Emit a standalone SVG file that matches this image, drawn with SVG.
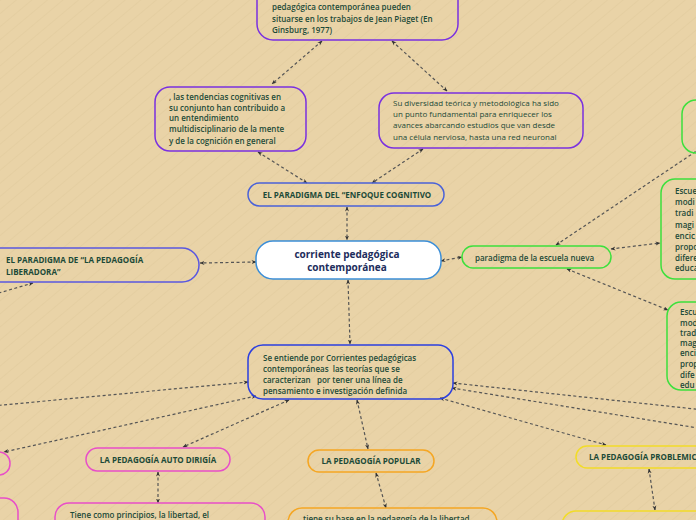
<svg xmlns="http://www.w3.org/2000/svg" width="696" height="520" viewBox="0 0 696 520">
<defs>
<pattern id="bg" width="10" height="10" patternUnits="userSpaceOnUse" patternTransform="rotate(-40)">
<rect width="10" height="10" fill="#e9d3a7"/>
<line x1="0" y1="0" x2="10" y2="0" stroke="#e2cb9d" stroke-width="1.2"/>
</pattern>
<marker id="ah" viewBox="0 0 10 10" refX="9" refY="5" markerWidth="5" markerHeight="5" orient="auto-start-reverse" markerUnits="userSpaceOnUse">
<path d="M0,1 L10,5 L0,9 L3,5 Z" fill="#333"/>
</marker>
<style>
.c{fill:none;stroke:#555;stroke-width:1.2;stroke-dasharray:3 2.5;marker-start:url(#ah);marker-end:url(#ah)}
.n{fill:none;stroke-width:1.5}
text{white-space:pre}
.t{font-family:"Open Sans","Noto Sans","Liberation Sans",sans-serif;fill:#1c4a38;font-size:8px;font-weight:600}
.tn{font-family:"Open Sans","Noto Sans","Liberation Sans",sans-serif;fill:#1c4a38;font-size:8px;font-weight:400}
.h{font-family:"Open Sans","Noto Sans","Liberation Sans",sans-serif;fill:#1c4a38;font-size:8px;font-weight:700}
.pur{stroke:#7a30e0}
.grn{stroke:#3de03d}
.pnk{stroke:#e84fc8}
.org{stroke:#f5a623}
.yel{stroke:#f2dc28}
</style>
</defs>
<rect width="696" height="520" fill="url(#bg)"/>

<g id="connectors">
<line class="c" x1="322" y1="41" x2="272" y2="84"/>
<line class="c" x1="392" y1="41" x2="447" y2="91"/>
<line class="c" x1="258" y1="152" x2="307" y2="183"/>
<line class="c" x1="423" y1="149" x2="372" y2="183"/>
<line class="c" x1="347" y1="207" x2="347" y2="240"/>
<line class="c" x1="256" y1="262" x2="200" y2="263"/>
<line class="c" x1="441" y1="261" x2="462" y2="257"/>
<line class="c" x1="348" y1="280" x2="350" y2="344"/>
<line class="c" x1="556" y1="245" x2="704" y2="146"/>
<line class="c" x1="611" y1="249" x2="660" y2="243"/>
<line class="c" x1="567" y1="269" x2="668" y2="310"/>
<line class="c" x1="33" y1="283" x2="-8" y2="295"/>
<line class="c" x1="248" y1="382" x2="-8" y2="406"/>
<line class="c" x1="256" y1="396" x2="4" y2="452"/>
<line class="c" x1="289" y1="400" x2="183" y2="447"/>
<line class="c" x1="357" y1="400" x2="368" y2="449"/>
<line class="c" x1="440" y1="398" x2="606" y2="445"/>
<line class="c" x1="452" y1="388" x2="704" y2="429"/>
<line class="c" x1="453" y1="383" x2="704" y2="410"/>
<line class="c" x1="158" y1="472" x2="158" y2="503"/>
<line class="c" x1="376" y1="473" x2="386" y2="508"/>
<line class="c" x1="649" y1="469" x2="655" y2="510"/>
</g>

<g id="n-piaget">
<rect class="n pur" x="257" y="-20" width="201" height="60" rx="16"/>
<text class="t" x="272" y="10">pedagógica contemporánea pueden</text>
<text class="t" x="272" y="22">situarse en los trabajos de Jean Piaget (En</text>
<text class="t" x="272" y="33">Ginsburg, 1977)</text>
</g>

<g id="n-tendencias">
<rect class="n pur" x="155" y="87" width="151" height="64" rx="15"/>
<text class="t" x="169" y="100">, las tendencias cognitivas en</text>
<text class="t" x="169" y="111">su conjunto han contribuido a</text>
<text class="t" x="169" y="121">un entendimiento</text>
<text class="t" x="169" y="132">multidisciplinario de la mente</text>
<text class="t" x="169" y="144">y de la cognición en general</text>
</g>

<g id="n-diversidad">
<rect class="n pur" x="379" y="93" width="204" height="55" rx="15"/>
<text class="tn" x="393" y="106">Su diversidad teórica y metodológica ha sido</text>
<text class="tn" x="393" y="117">un punto fundamental para enriquecer los</text>
<text class="tn" x="393" y="128">avances abarcando estudios que van desde</text>
<text class="tn" x="393" y="140">una célula nerviosa, hasta una red neuronal</text>
</g>

<g id="n-enfoque">
<rect class="n" stroke="#4a62d8" x="248" y="183" width="196" height="23" rx="11.5"/>
<text class="h" x="347" y="198" text-anchor="middle">EL PARADIGMA DEL “ENFOQUE COGNITIVO</text>
</g>

<g id="n-corriente">
<rect x="256" y="241" width="185" height="38" rx="17" fill="#fff" stroke="#3b8ed8" stroke-width="1.5"/>
<text x="347" y="258" text-anchor="middle" font-family="Open Sans, Noto Sans, Liberation Sans, sans-serif" font-size="10" font-weight="700" fill="#1d2d5c">corriente pedagógica</text>
<text x="347" y="271" text-anchor="middle" font-family="Open Sans, Noto Sans, Liberation Sans, sans-serif" font-size="10" font-weight="700" fill="#1d2d5c">contemporánea</text>
</g>

<g id="n-liberadora">
<rect class="n" stroke="#5a58e0" x="-20" y="248" width="219" height="34" rx="17"/>
<text class="h" x="6" y="263">EL PARADIGMA DE “LA PEDAGOGÍA</text>
<text class="h" x="6" y="275">LIBERADORA”</text>
</g>

<g id="n-nueva">
<rect class="n grn" x="462" y="246" width="149" height="22" rx="11"/>
<text class="t" x="475" y="261">paradigma de la escuela nueva</text>
</g>

<g id="n-right-top">
<rect class="n grn" x="682" y="100" width="40" height="53" rx="14"/>
</g>

<g id="n-right-mid">
<rect class="n grn" x="661" y="179" width="60" height="100" rx="14"/>
<text class="t" x="675" y="194">Escue</text>
<text class="t" x="675" y="205">modi</text>
<text class="t" x="675" y="216">tradi</text>
<text class="t" x="675" y="228">magi</text>
<text class="t" x="675" y="239">encic</text>
<text class="t" x="675" y="250">propo</text>
<text class="t" x="675" y="261">difere</text>
<text class="t" x="675" y="271">educa</text>
</g>

<g id="n-right-low">
<rect class="n grn" x="667" y="302" width="60" height="88" rx="14"/>
<text class="t" x="680" y="315">Escu</text>
<text class="t" x="680" y="326">mod</text>
<text class="t" x="680" y="336">trad</text>
<text class="t" x="680" y="346">mag</text>
<text class="t" x="680" y="356">enci</text>
<text class="t" x="680" y="367">prop</text>
<text class="t" x="680" y="378">dife</text>
<text class="t" x="680" y="388">edu</text>
</g>

<g id="n-entiende">
<rect class="n" stroke="#2b3fe0" x="248" y="345" width="205" height="54" rx="15"/>
<text class="t" x="263" y="361">Se entiende por Corrientes pedagógicas</text>
<text class="t" x="263" y="372">contemporáneas  las teorías que se</text>
<text class="t" x="263" y="383">caracterizan   por tener una línea de</text>
<text class="t" x="263" y="394">pensamiento e investigación definida</text>
</g>

<g id="n-pink-left">
<rect class="n pnk" x="-20" y="452" width="30" height="23" rx="11"/>
</g>
<g id="n-pink-left2">
<rect class="n pnk" x="-30" y="498" width="48" height="40" rx="14"/>
</g>

<g id="n-auto">
<rect class="n pnk" x="86" y="448" width="144" height="23" rx="11.5"/>
<text class="h" x="158" y="463" text-anchor="middle">LA PEDAGOGÍA AUTO DIRIGÍA</text>
</g>
<g id="n-tiene">
<rect class="n pnk" x="55" y="503" width="210" height="40" rx="14"/>
<text class="t" x="70" y="518">Tiene como principios, la libertad, el</text>
</g>

<g id="n-popular">
<rect class="n org" x="308" y="450" width="126" height="22" rx="11"/>
<text class="h" x="371" y="464" text-anchor="middle">LA PEDAGOGÍA POPULAR</text>
</g>
<g id="n-base">
<rect class="n org" x="288" y="508" width="209" height="40" rx="14"/>
<text class="t" x="303" y="522">tiene su base en la pedagogía de la libertad</text>
</g>

<g id="n-problemica">
<rect class="n yel" x="576" y="446" width="140" height="22" rx="11"/>
<text class="h" x="589" y="460">LA PEDAGOGÍA PROBLEMIC</text>
</g>
<g id="n-prob-below">
<rect class="n yel" x="562" y="511" width="160" height="40" rx="14"/>
</g>
</svg>
